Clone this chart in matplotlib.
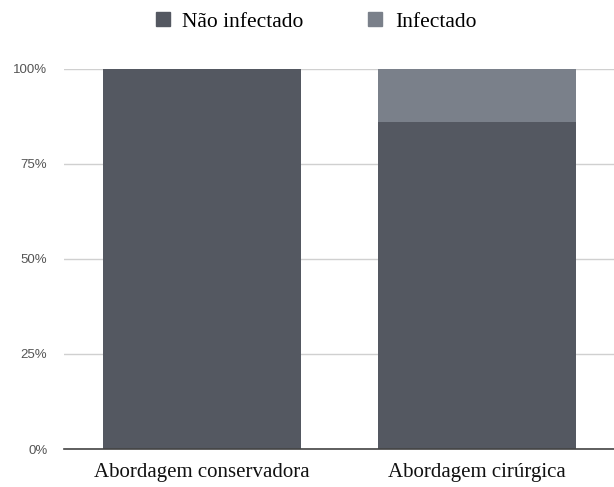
import matplotlib
matplotlib.use("Agg")
import matplotlib.pyplot as plt
from matplotlib.patches import Patch

categories = ["Abordagem conservadora", "Abordagem cirúrgica"]
nao_infectado = [100, 86]
infectado = [0, 14]
series_names = ["Não infectado", "Infectado"]
yticks = [0, 25, 50, 75, 100]
ytick_labels = ["0%", "25%", "50%", "75%", "100%"]

c_dark = "#545861"
c_light = "#7a808a"

fig = plt.figure(figsize=(6.14, 4.87), dpi=100)
ax = fig.add_axes([64/614, 1-449/487, 1-64/614, (449-69)/487])

x = list(range(len(categories)))
ax.bar(x, nao_infectado, width=0.72, color=c_dark, zorder=2)
ax.bar(x, infectado, width=0.72, bottom=nao_infectado, color=c_light, zorder=2)

ax.set_xlim(-0.5, 1.5)
ax.set_ylim(0, 100)
ax.set_yticks(yticks)
ax.set_yticklabels(ytick_labels, fontsize=9.5, color="#555555", family="Liberation Sans")
ax.set_xticks(x)
ax.set_xticklabels(categories, fontsize=15, family="Liberation Serif", color="#111111")
ax.tick_params(axis="x", length=0, pad=10)
ax.tick_params(axis="y", length=0, pad=12)
ax.grid(axis="y", color="#d0d0d0", linewidth=1, zorder=0)
for s in ["top", "right", "left"]:
    ax.spines[s].set_visible(False)
ax.spines["bottom"].set_color("#444444")
ax.spines["bottom"].set_linewidth(1.2)
ax.spines["bottom"].set_zorder(3)

handles = [Patch(color=c_dark), Patch(color=c_light)]
fig.legend(handles, series_names, loc="center", bbox_to_anchor=(0.515, 1-22/487),
           ncol=2, frameon=False, prop={"family": "Liberation Serif", "size": 15.5},
           handlelength=0.65, handleheight=0.65, handletextpad=0.6, columnspacing=3.0)

fig.savefig("out.png", dpi=100)
